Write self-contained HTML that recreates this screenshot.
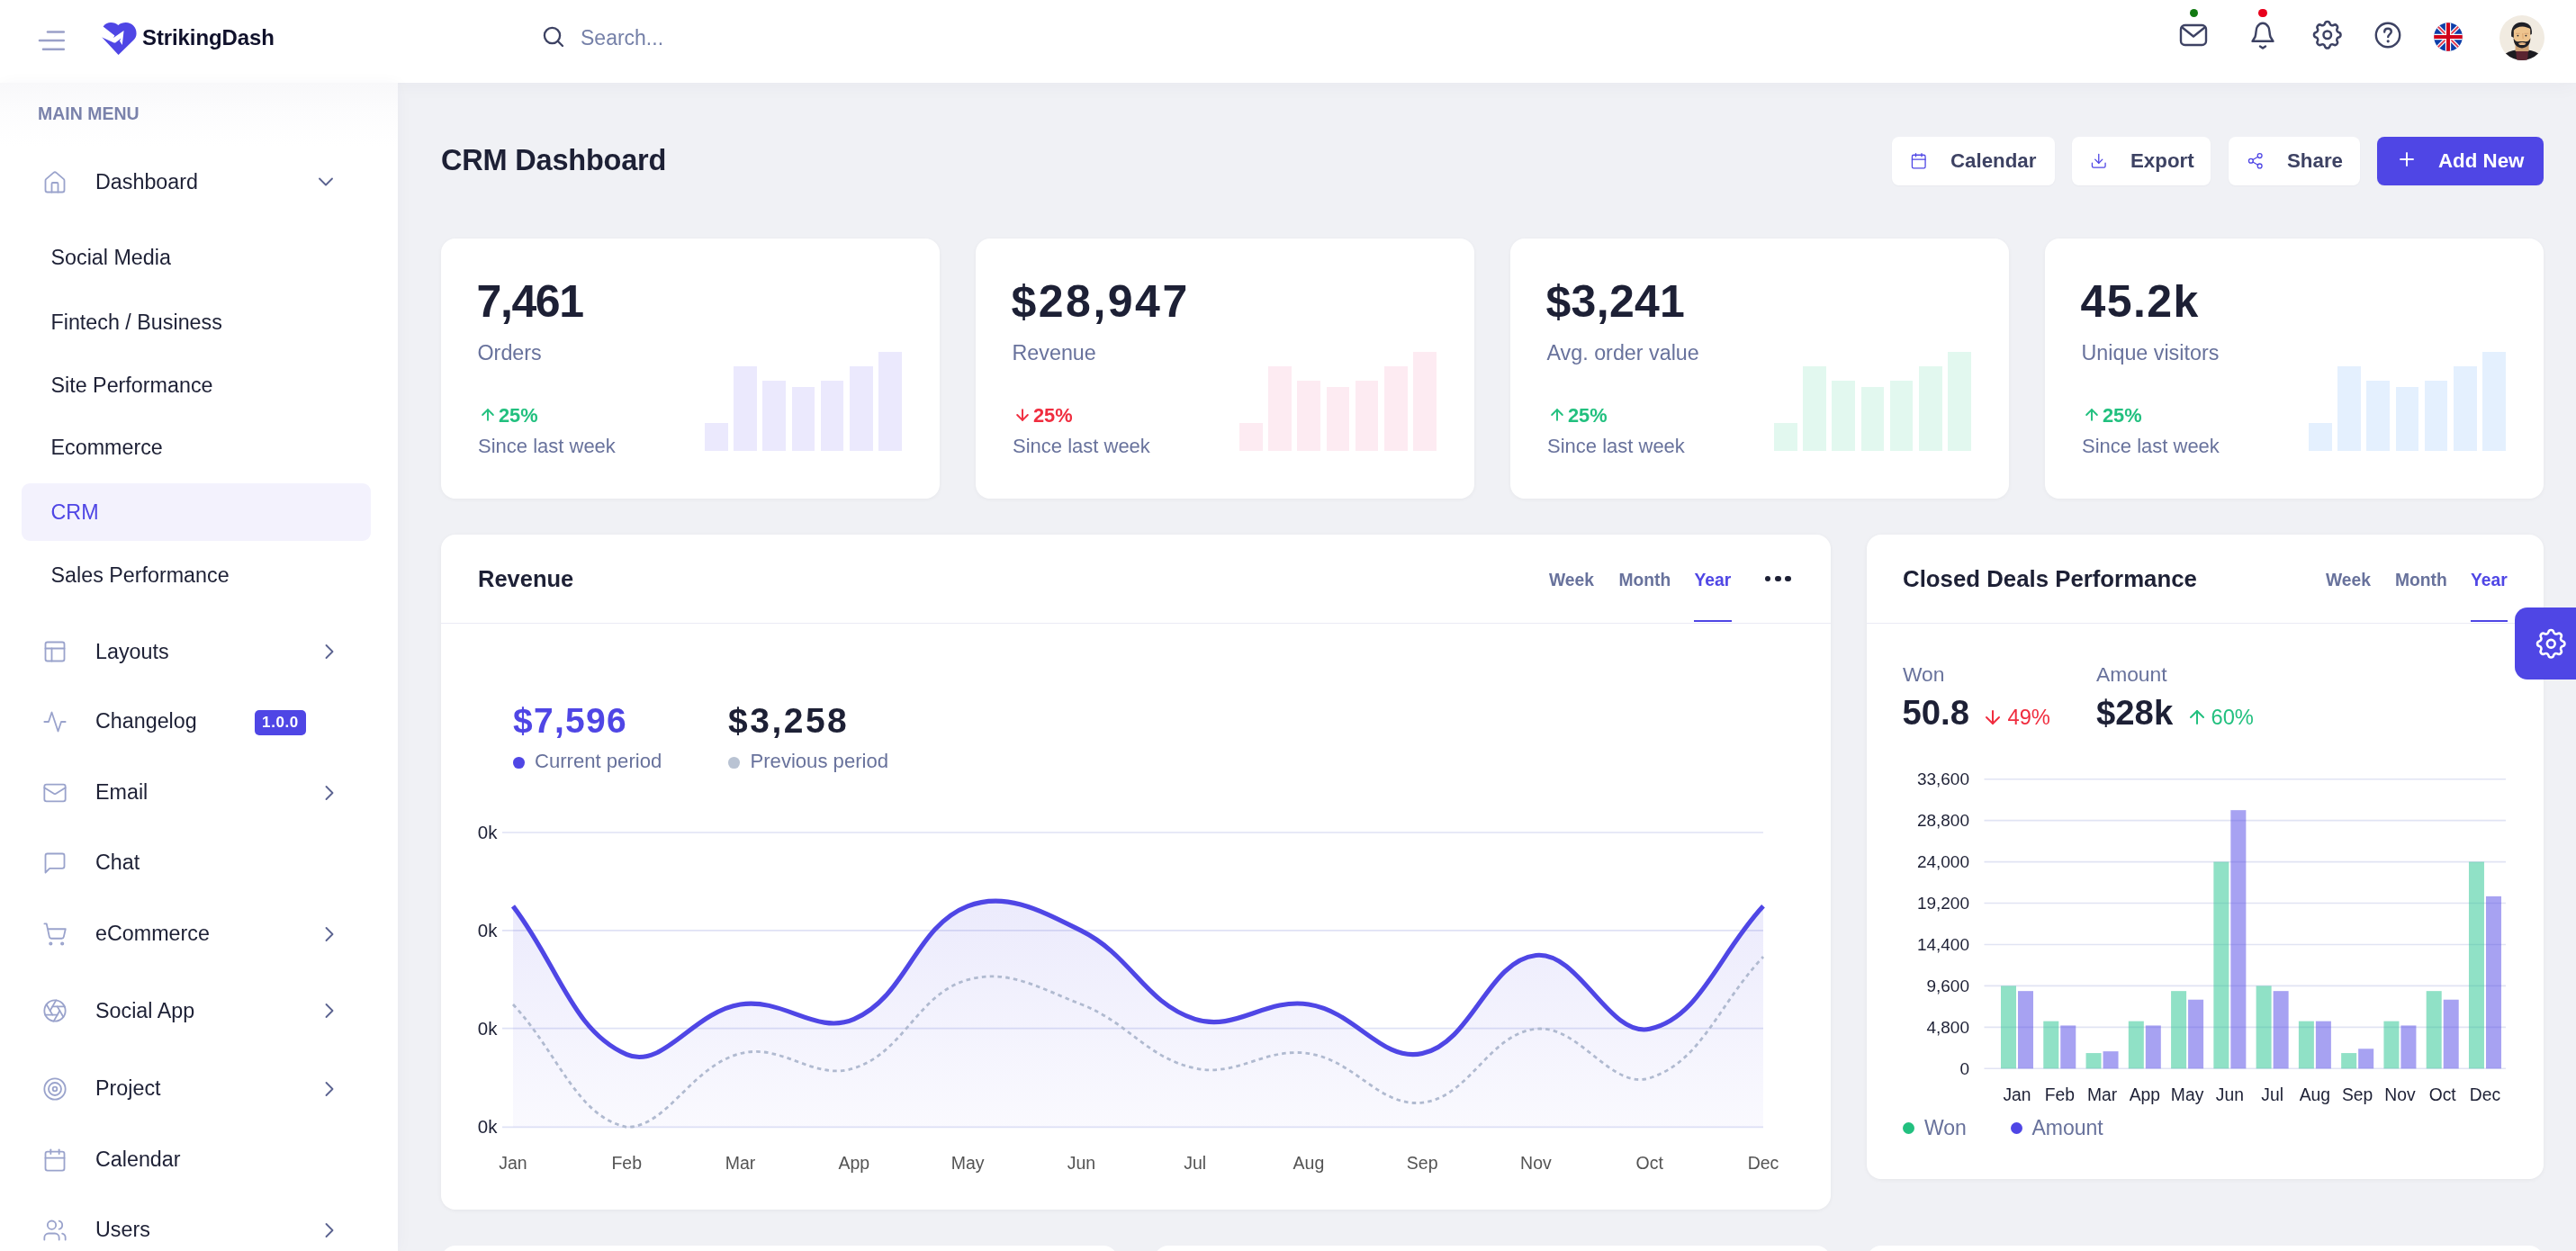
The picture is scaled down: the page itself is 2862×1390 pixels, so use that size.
<!DOCTYPE html>
<html><head><meta charset="utf-8"><title>CRM Dashboard</title>
<style>
html,body{margin:0;padding:0;}
body{width:2862px;height:1390px;overflow:hidden;position:relative;background:#f0f1f5;font-family:"Liberation Sans",sans-serif;}
.t{position:absolute;line-height:1;white-space:nowrap;}
body{-webkit-font-smoothing:antialiased;}
#root{position:absolute;left:0;top:0;width:2862px;height:1390px;will-change:transform;}
svg{overflow:visible}
</style></head><body>
<div id="root">
<div style="position:absolute;left:0px;top:0px;width:2862px;height:92px;background:#fff;box-shadow:0 2px 22px rgba(40,45,90,0.045);z-index:3"></div>
<div style="position:absolute;left:0;top:0;width:2862px;height:92px;z-index:4">
<svg style="position:absolute;left:40px;top:25px;" width="40" height="40" viewBox="0 0 40 40"><g stroke="#9aa0c8" stroke-width="2.6" stroke-linecap="round"><line x1="13" y1="10.5" x2="30.8" y2="10.5"/><line x1="4" y1="20" x2="30.8" y2="20"/><line x1="8" y1="29.7" x2="30.8" y2="29.7"/></g></svg>
<svg style="position:absolute;left:105px;top:18px;" width="55" height="50" viewBox="0 0 1376 1251"><path fill="#4f46e5" d="M240 285 C300 210,380 178,450 178 C540 178,610 205,660 250 C720 200,790 178,870 178 C1040 178,1165 310,1165 480 C1165 560,1130 620,1080 670 L665 1075 L210 585 Z"/><path fill="#fff" d="M150 270 L240 285 L560 540 L525 600 L545 585 L815 400 L770 800 L700 690 L740 610 L580 740 L540 740 L210 585 L150 585 Z"/></svg>
<div class="t" style="left:158px;top:29.7px;font-size:24px;color:#10112b;font-weight:700;letter-spacing:-0.1px">StrikingDash</div>
<svg style="position:absolute;left:600px;top:26px;" width="30" height="30" viewBox="0 0 30 30"><g fill="none" stroke="#3d4263" stroke-width="2.3" stroke-linecap="round"><circle cx="13.5" cy="13.5" r="8.6"/><line x1="19.8" y1="19.8" x2="25" y2="25"/></g></svg>
<div class="t" style="left:645px;top:30.5px;font-size:23px;color:#7580a8;font-weight:400;">Search...</div>
<svg style="position:absolute;left:2420px;top:25px;" width="34" height="28" viewBox="0 0 34 28"><g fill="none" stroke="#3d4263" stroke-width="2.4" stroke-linejoin="round" stroke-linecap="round"><rect x="3" y="3" width="28" height="22" rx="4.5"/><path d="M4.5 5.5 L17 15.5 L29.5 5.5"/></g></svg>
<div style="position:absolute;left:2432.8px;top:10px;width:9px;height:9px;border-radius:50%;background:#127a12"></div>
<svg style="position:absolute;left:2498px;top:23px;" width="32" height="34" viewBox="0 0 32 34"><g fill="none" stroke="#3d4263" stroke-width="2.4" stroke-linejoin="round" stroke-linecap="round"><path d="M4.5 22.8 L7.5 18 C9 14 8 9 10 6.5 C12 3.5 14 2.8 16 2.8 C18 2.8 20 3.5 22 6.5 C24 9 23 14 24.5 18 L27.5 22.8 Z"/><path d="M13 28.5 L16 30.5 L19 28.5"/></g></svg>
<div style="position:absolute;left:2509px;top:9.6px;width:9.5px;height:9.5px;border-radius:50%;background:#e8001c"></div>
<svg style="position:absolute;left:2566.1px;top:19.0px;" width="39.5" height="39.5" viewBox="0 0 24 24"><g fill="none" stroke="#3d4263" stroke-width="1.5" stroke-linejoin="round" stroke-linecap="round"><path d="M10.325 4.317c.426-1.756 2.924-1.756 3.35 0a1.724 1.724 0 002.573 1.066c1.543-.94 3.31.826 2.37 2.37a1.724 1.724 0 001.065 2.572c1.756.426 1.756 2.924 0 3.35a1.724 1.724 0 00-1.066 2.573c.94 1.543-.826 3.31-2.37 2.37a1.724 1.724 0 00-2.572 1.065c-.426 1.756-2.924 1.756-3.35 0a1.724 1.724 0 00-2.573-1.066c-1.543.94-3.31-.826-2.37-2.37a1.724 1.724 0 00-1.065-2.572c-1.756-.426-1.756-2.924 0-3.35a1.724 1.724 0 001.066-2.573c-.94-1.543.826-3.31 2.37-2.37.996.608 2.296.07 2.572-1.065z"/><circle cx="12" cy="12" r="2.6"/></g></svg>
<svg style="position:absolute;left:2636px;top:22px;" width="34" height="34" viewBox="0 0 34 34"><g fill="none" stroke="#3d4263" stroke-width="2.4" stroke-linecap="round"><circle cx="17" cy="17" r="13.2"/><path d="M13.2 13.5 C13.2 11 15 9.8 17 9.8 C19.2 9.8 20.8 11.2 20.8 13.2 C20.8 15.8 17.2 16.3 17.2 19"/></g><circle cx="17.2" cy="23.8" r="1.6" fill="#3d4263"/></svg>
<svg style="position:absolute;left:2704px;top:25px;" width="32" height="32" viewBox="0 0 32 32"><defs><clipPath id="fc"><circle cx="16" cy="16" r="15.8"/></clipPath><filter id="fb" x="-10%" y="-10%" width="120%" height="120%"><feGaussianBlur stdDeviation="0.8"/></filter></defs><g clip-path="url(#fc)"><g><rect x="-2" y="-2" width="36" height="36" fill="#0d3ea9"/><path d="M0 0 L32 32 M32 0 L0 32" stroke="#fff" stroke-width="4.3"/><path d="M0 0 L32 32 M32 0 L0 32" stroke="#e0364c" stroke-width="1.9"/><path d="M16 -2 V34 M-2 16 H34" stroke="#fff" stroke-width="6.3"/><path d="M16 -2 V34 M-2 16 H34" stroke="#d0021b" stroke-width="4"/></g></g></svg>
<svg style="position:absolute;left:2777.1px;top:16.6px;" width="50" height="50" viewBox="0 0 50 50"><defs><clipPath id="ac"><circle cx="25" cy="25" r="25"/></clipPath></defs><g clip-path="url(#ac)"><rect width="50" height="50" fill="#f1ebe1"/><path d="M4 45 C8 41 13 39.3 18.5 38.6 L31.5 38.6 C37 39.3 42 41 46 45 L46 52 L4 52 Z" fill="#1c1b20"/><path d="M18.2 39.2 L32 39.2 L31 52 L19.2 52 Z" fill="#5a2430"/><rect x="17.6" y="31" width="15" height="9" fill="#cfa274"/><path d="M13.2 23.5 C12.2 13 17 7.7 24.8 7.7 C32.5 7.7 36.8 12.5 35.8 21 L33 22 L16 25 Z" fill="#1e1f26"/><path d="M15.8 16 C16 12 19.5 10.8 25 10.8 C30.5 10.8 34 12 34.2 16 L34.2 27 C34.2 32 31 35.5 25 35.8 C19 35.5 15.8 32 15.8 27 Z" fill="#eec48e"/><path d="M15.2 17.5 C15.5 11.5 19 9.2 24.5 9.2 C30 9.2 34 11 35 15.5 C32 13.8 29 12.6 25.5 12.5 C21 12.5 17.8 14.2 15.2 17.5 Z" fill="#1e1f26"/><path d="M15.7 25.3 C15.5 31.5 18.5 35.8 25 36.4 C31.5 35.8 34.5 31.5 34.3 25.3 C33.3 28.2 31.5 29.4 29.2 29.3 C27.2 28.8 23 28.8 20.8 29.3 C18.5 29.4 16.7 28.2 15.7 25.3 Z" fill="#1e1f26"/><ellipse cx="25.2" cy="31.4" rx="3.8" ry="1.5" fill="#eec48e"/><path d="M21 31.4 H29.4" stroke="#c98a6a" stroke-width="0.6"/><path d="M18 20.3 H22.5 M27.6 20.3 H32.2" stroke="#d29a6a" stroke-width="0.8"/><path d="M25.8 20 L26.1 26" stroke="#d9a470" stroke-width="1"/><circle cx="20.4" cy="22.6" r="0.95" fill="#1e1f26"/><circle cx="29.4" cy="22.6" r="0.95" fill="#1e1f26"/></g></svg>
</div>
<div style="position:absolute;left:0px;top:92px;width:442px;height:1298px;background:#fff;box-shadow:2px 0 16px rgba(40,45,90,0.03);z-index:4"></div>
<div style="position:absolute;left:0;top:92px;width:442px;height:1298px;z-index:4;background:linear-gradient(#f8f8fa,#fcfcfd 30px,#fff 70px)"></div>
<div style="position:absolute;left:0;top:0;width:442px;height:1390px;z-index:4">
<div class="t" style="left:42px;top:116.5px;font-size:19.5px;color:#7a82ab;font-weight:700;letter-spacing:0px">MAIN MENU</div>
<svg style="position:absolute;left:46.5px;top:188.5px;" width="28" height="28" viewBox="0 0 24 24"><g fill="none" stroke="#9aa3cc" stroke-width="1.55" stroke-linecap="round" stroke-linejoin="round"><path d="M15 21v-8a1 1 0 0 0-1-1h-4a1 1 0 0 0-1 1v8"/><path d="M3 10a2 2 0 0 1 .709-1.528l7-5.999a2 2 0 0 1 2.582 0l7 5.999A2 2 0 0 1 21 10v9a2 2 0 0 1-2 2H5a2 2 0 0 1-2-2z"/></g></svg>
<div class="t" style="left:106px;top:190.7px;font-size:23.3px;color:#1d2035;font-weight:400;">Dashboard</div>
<svg style="position:absolute;left:348px;top:188px;" width="28" height="28" viewBox="0 0 24 24"><g fill="none" stroke="#5b6390" stroke-width="1.6" stroke-linecap="round" stroke-linejoin="round"><path d="m6 9 6 6 6-6"/></g></svg>
<div style="position:absolute;left:24px;top:537px;width:388px;height:64px;background:#f3f2fd;border-radius:9px"></div>
<div class="t" style="left:56.5px;top:274.7px;font-size:23.3px;color:#1d2035;font-weight:400;">Social Media</div>
<div class="t" style="left:56.5px;top:346.8px;font-size:23.3px;color:#1d2035;font-weight:400;">Fintech / Business</div>
<div class="t" style="left:56.5px;top:416.7px;font-size:23.3px;color:#1d2035;font-weight:400;">Site Performance</div>
<div class="t" style="left:56.5px;top:486.3px;font-size:23.3px;color:#1d2035;font-weight:400;">Ecommerce</div>
<div class="t" style="left:56.5px;top:557.7px;font-size:23.3px;color:#4f46e5;font-weight:400;">CRM</div>
<div class="t" style="left:56.5px;top:627.9px;font-size:23.3px;color:#1d2035;font-weight:400;">Sales Performance</div>
<svg style="position:absolute;left:46.5px;top:709.9px;" width="28" height="28" viewBox="0 0 24 24"><g fill="none" stroke="#9aa3cc" stroke-width="1.55" stroke-linecap="round" stroke-linejoin="round"><rect width="18" height="18" x="3" y="3" rx="2"/><path d="M3 9h18"/><path d="M9 21V9"/></g></svg>
<div class="t" style="left:106px;top:712.6px;font-size:23.3px;color:#1d2035;font-weight:400;">Layouts</div>
<svg style="position:absolute;left:352px;top:709.9px;" width="28" height="28" viewBox="0 0 24 24"><g fill="none" stroke="#5b6390" stroke-width="1.6" stroke-linecap="round" stroke-linejoin="round"><path d="m9 18 6-6-6-6"/></g></svg>
<svg style="position:absolute;left:46.5px;top:787.6px;" width="28" height="28" viewBox="0 0 24 24"><g fill="none" stroke="#9aa3cc" stroke-width="1.55" stroke-linecap="round" stroke-linejoin="round"><path d="M22 12h-4l-3 9L9 3l-3 9H2"/></g></svg>
<div class="t" style="left:106px;top:790.3px;font-size:23.3px;color:#1d2035;font-weight:400;">Changelog</div>
<svg style="position:absolute;left:46.5px;top:866.6px;" width="28" height="28" viewBox="0 0 24 24"><g fill="none" stroke="#9aa3cc" stroke-width="1.55" stroke-linecap="round" stroke-linejoin="round"><rect width="20" height="16" x="2" y="4" rx="2"/><path d="m22 7-8.97 5.7a1.94 1.94 0 0 1-2.06 0L2 7"/></g></svg>
<div class="t" style="left:106px;top:869.3px;font-size:23.3px;color:#1d2035;font-weight:400;">Email</div>
<svg style="position:absolute;left:352px;top:866.6px;" width="28" height="28" viewBox="0 0 24 24"><g fill="none" stroke="#5b6390" stroke-width="1.6" stroke-linecap="round" stroke-linejoin="round"><path d="m9 18 6-6-6-6"/></g></svg>
<svg style="position:absolute;left:46.5px;top:944.6px;" width="28" height="28" viewBox="0 0 24 24"><g fill="none" stroke="#9aa3cc" stroke-width="1.55" stroke-linecap="round" stroke-linejoin="round"><path d="M21 15a2 2 0 0 1-2 2H7l-4 4V5a2 2 0 0 1 2-2h14a2 2 0 0 1 2 2z"/></g></svg>
<div class="t" style="left:106px;top:947.3px;font-size:23.3px;color:#1d2035;font-weight:400;">Chat</div>
<svg style="position:absolute;left:46.5px;top:1023.5999999999999px;" width="28" height="28" viewBox="0 0 24 24"><g fill="none" stroke="#9aa3cc" stroke-width="1.55" stroke-linecap="round" stroke-linejoin="round"><circle cx="8" cy="21" r="1"/><circle cx="19" cy="21" r="1"/><path d="M2.05 2.05h2l2.66 12.42a2 2 0 0 0 2 1.58h9.78a2 2 0 0 0 1.95-1.57l1.65-7.43H5.12"/></g></svg>
<div class="t" style="left:106px;top:1026.3px;font-size:23.3px;color:#1d2035;font-weight:400;">eCommerce</div>
<svg style="position:absolute;left:352px;top:1023.5999999999999px;" width="28" height="28" viewBox="0 0 24 24"><g fill="none" stroke="#5b6390" stroke-width="1.6" stroke-linecap="round" stroke-linejoin="round"><path d="m9 18 6-6-6-6"/></g></svg>
<svg style="position:absolute;left:46.5px;top:1109.3999999999999px;" width="28" height="28" viewBox="0 0 24 24"><g fill="none" stroke="#9aa3cc" stroke-width="1.55" stroke-linecap="round" stroke-linejoin="round"><circle cx="12" cy="12" r="10"/><path d="m14.31 8 5.74 9.94"/><path d="M9.69 8h11.48"/><path d="m7.38 12 5.74-9.94"/><path d="M9.69 16 3.95 6.06"/><path d="M14.31 16H2.83"/><path d="m16.62 12-5.74 9.94"/></g></svg>
<div class="t" style="left:106px;top:1112.1px;font-size:23.3px;color:#1d2035;font-weight:400;">Social App</div>
<svg style="position:absolute;left:352px;top:1109.3999999999999px;" width="28" height="28" viewBox="0 0 24 24"><g fill="none" stroke="#5b6390" stroke-width="1.6" stroke-linecap="round" stroke-linejoin="round"><path d="m9 18 6-6-6-6"/></g></svg>
<svg style="position:absolute;left:46.5px;top:1195.6px;" width="28" height="28" viewBox="0 0 24 24"><g fill="none" stroke="#9aa3cc" stroke-width="1.55" stroke-linecap="round" stroke-linejoin="round"><circle cx="12" cy="12" r="10"/><circle cx="12" cy="12" r="6"/><circle cx="12" cy="12" r="2"/></g></svg>
<div class="t" style="left:106px;top:1198.3px;font-size:23.3px;color:#1d2035;font-weight:400;">Project</div>
<svg style="position:absolute;left:352px;top:1195.6px;" width="28" height="28" viewBox="0 0 24 24"><g fill="none" stroke="#5b6390" stroke-width="1.6" stroke-linecap="round" stroke-linejoin="round"><path d="m9 18 6-6-6-6"/></g></svg>
<svg style="position:absolute;left:46.5px;top:1274.6px;" width="28" height="28" viewBox="0 0 24 24"><g fill="none" stroke="#9aa3cc" stroke-width="1.55" stroke-linecap="round" stroke-linejoin="round"><path d="M8 2v4"/><path d="M16 2v4"/><rect width="18" height="18" x="3" y="4" rx="2"/><path d="M3 10h18"/></g></svg>
<div class="t" style="left:106px;top:1277.3px;font-size:23.3px;color:#1d2035;font-weight:400;">Calendar</div>
<svg style="position:absolute;left:46.5px;top:1352.6px;" width="28" height="28" viewBox="0 0 24 24"><g fill="none" stroke="#9aa3cc" stroke-width="1.55" stroke-linecap="round" stroke-linejoin="round"><path d="M16 21v-2a4 4 0 0 0-4-4H6a4 4 0 0 0-4 4v2"/><circle cx="9" cy="7" r="4"/><path d="M22 21v-2a4 4 0 0 0-3-3.87"/><path d="M16 3.13a4 4 0 0 1 0 7.75"/></g></svg>
<div class="t" style="left:106px;top:1355.3px;font-size:23.3px;color:#1d2035;font-weight:400;">Users</div>
<svg style="position:absolute;left:352px;top:1352.6px;" width="28" height="28" viewBox="0 0 24 24"><g fill="none" stroke="#5b6390" stroke-width="1.6" stroke-linecap="round" stroke-linejoin="round"><path d="m9 18 6-6-6-6"/></g></svg>
<div style="position:absolute;left:283px;top:788.5px;width:57px;height:28px;border-radius:5px;background:#4f46e5;color:#fff;font-size:17px;font-weight:700;line-height:28px;text-align:center;letter-spacing:0.6px">1.0.0</div>
</div>
<div class="t" style="left:490px;top:161.6px;font-size:32.5px;color:#1d2035;font-weight:700;letter-spacing:-0.2px">CRM Dashboard</div>
<div style="position:absolute;left:2102px;top:152px;width:181px;height:54px;border-radius:8px;background:#fff;box-shadow:0 1px 2px rgba(40,45,90,0.04)"></div>
<svg style="position:absolute;left:2122px;top:168.8px;" width="19.5" height="19.5" viewBox="0 0 24 24"><g fill="none" stroke="#4f46e5" stroke-width="1.6" stroke-linecap="round" stroke-linejoin="round"><path d="M8 2v4"/><path d="M16 2v4"/><rect width="18" height="18" x="3" y="4" rx="2"/><path d="M3 10h18"/></g></svg>
<div class="t" style="left:2167px;top:168.1px;font-size:22.3px;color:#3d4263;font-weight:700;">Calendar</div>
<div style="position:absolute;left:2302px;top:152px;width:154px;height:54px;border-radius:8px;background:#fff;box-shadow:0 1px 2px rgba(40,45,90,0.04)"></div>
<svg style="position:absolute;left:2322px;top:168.5px;" width="19.5" height="19.5" viewBox="0 0 24 24"><g fill="none" stroke="#4f46e5" stroke-width="1.6" stroke-linecap="round" stroke-linejoin="round"><path d="M21 15v4a2 2 0 0 1-2 2H5a2 2 0 0 1-2-2v-4"/><polyline points="7 10 12 15 17 10"/><line x1="12" x2="12" y1="15" y2="3"/></g></svg>
<div class="t" style="left:2367px;top:168.1px;font-size:22.3px;color:#3d4263;font-weight:700;">Export</div>
<div style="position:absolute;left:2476px;top:152px;width:146px;height:54px;border-radius:8px;background:#fff;box-shadow:0 1px 2px rgba(40,45,90,0.04)"></div>
<svg style="position:absolute;left:2495.5px;top:168.5px;" width="19.5" height="19.5" viewBox="0 0 24 24"><g fill="none" stroke="#4f46e5" stroke-width="1.6" stroke-linecap="round" stroke-linejoin="round"><circle cx="18" cy="5" r="3"/><circle cx="6" cy="12" r="3"/><circle cx="18" cy="19" r="3"/><line x1="8.59" x2="15.42" y1="13.51" y2="17.49"/><line x1="15.41" x2="8.59" y1="6.51" y2="10.49"/></g></svg>
<div class="t" style="left:2541px;top:168.1px;font-size:22.3px;color:#3d4263;font-weight:700;">Share</div>
<div style="position:absolute;left:2641px;top:152px;width:185px;height:54px;border-radius:8px;background:#4f46e5;box-shadow:0 1px 2px rgba(40,45,90,0.04)"></div>
<svg style="position:absolute;left:2662px;top:164.5px;" width="24" height="24" viewBox="0 0 24 24"><g fill="none" stroke="#fff" stroke-width="1.9" stroke-linecap="round" stroke-linejoin="round"><path d="M5 12h14"/><path d="M12 5v14"/></g></svg>
<div class="t" style="left:2709px;top:168.1px;font-size:22.3px;color:#fff;font-weight:700;">Add New</div>
<div style="position:absolute;left:490px;top:265px;width:554px;height:289px;border-radius:16px;background:#fff;box-shadow:0 1px 5px rgba(0,0,0,0.045)"></div>
<div class="t" style="left:529.5px;top:310.0px;font-size:50px;color:#1d2035;font-weight:700;letter-spacing:-1.4px">7,461</div>
<div class="t" style="left:530.5px;top:380.8px;font-size:23.3px;color:#68729c;font-weight:400;">Orders</div>
<svg style="position:absolute;left:531.5px;top:451px;" width="20" height="20" viewBox="0 0 24 24"><g fill="none" stroke="#22c07f" stroke-width="2.3" stroke-linecap="round" stroke-linejoin="round"><path d="M12 19V5"/><path d="m5 12 7-7 7 7"/></g></svg>
<div class="t" style="left:554px;top:450.7px;font-size:21.8px;color:#22c07f;font-weight:700;">25%</div>
<div class="t" style="left:531px;top:485.4px;font-size:22px;color:#68729c;font-weight:400;">Since last week</div>
<div style="position:absolute;left:783.0px;top:469.7px;width:25.6px;height:31px;background:#ebe9fd"></div>
<div style="position:absolute;left:815.2px;top:406.7px;width:25.6px;height:94px;background:#ebe9fd"></div>
<div style="position:absolute;left:847.4px;top:422.7px;width:25.6px;height:78px;background:#ebe9fd"></div>
<div style="position:absolute;left:879.6px;top:430.0px;width:25.6px;height:70.7px;background:#ebe9fd"></div>
<div style="position:absolute;left:911.8px;top:422.7px;width:25.6px;height:78px;background:#ebe9fd"></div>
<div style="position:absolute;left:944.0px;top:406.7px;width:25.6px;height:94px;background:#ebe9fd"></div>
<div style="position:absolute;left:976.2px;top:390.7px;width:25.6px;height:110px;background:#ebe9fd"></div>
<div style="position:absolute;left:1084px;top:265px;width:554px;height:289px;border-radius:16px;background:#fff;box-shadow:0 1px 5px rgba(0,0,0,0.045)"></div>
<div class="t" style="left:1123.5px;top:310.0px;font-size:50px;color:#1d2035;font-weight:700;letter-spacing:2.5px">$28,947</div>
<div class="t" style="left:1124.5px;top:380.8px;font-size:23.3px;color:#68729c;font-weight:400;">Revenue</div>
<svg style="position:absolute;left:1125.5px;top:451px;" width="20" height="20" viewBox="0 0 24 24"><g fill="none" stroke="#f02d3f" stroke-width="2.3" stroke-linecap="round" stroke-linejoin="round"><path d="M12 5v14"/><path d="m19 12-7 7-7-7"/></g></svg>
<div class="t" style="left:1148px;top:450.7px;font-size:21.8px;color:#f02d3f;font-weight:700;">25%</div>
<div class="t" style="left:1125px;top:485.4px;font-size:22px;color:#68729c;font-weight:400;">Since last week</div>
<div style="position:absolute;left:1377.0px;top:469.7px;width:25.6px;height:31px;background:#fdebf2"></div>
<div style="position:absolute;left:1409.2px;top:406.7px;width:25.6px;height:94px;background:#fdebf2"></div>
<div style="position:absolute;left:1441.4px;top:422.7px;width:25.6px;height:78px;background:#fdebf2"></div>
<div style="position:absolute;left:1473.6px;top:430.0px;width:25.6px;height:70.7px;background:#fdebf2"></div>
<div style="position:absolute;left:1505.8px;top:422.7px;width:25.6px;height:78px;background:#fdebf2"></div>
<div style="position:absolute;left:1538.0px;top:406.7px;width:25.6px;height:94px;background:#fdebf2"></div>
<div style="position:absolute;left:1570.2px;top:390.7px;width:25.6px;height:110px;background:#fdebf2"></div>
<div style="position:absolute;left:1678px;top:265px;width:554px;height:289px;border-radius:16px;background:#fff;box-shadow:0 1px 5px rgba(0,0,0,0.045)"></div>
<div class="t" style="left:1717.5px;top:310.0px;font-size:50px;color:#1d2035;font-weight:700;letter-spacing:0.3px">$3,241</div>
<div class="t" style="left:1718.5px;top:380.8px;font-size:23.3px;color:#68729c;font-weight:400;">Avg. order value</div>
<svg style="position:absolute;left:1719.5px;top:451px;" width="20" height="20" viewBox="0 0 24 24"><g fill="none" stroke="#22c07f" stroke-width="2.3" stroke-linecap="round" stroke-linejoin="round"><path d="M12 19V5"/><path d="m5 12 7-7 7 7"/></g></svg>
<div class="t" style="left:1742px;top:450.7px;font-size:21.8px;color:#22c07f;font-weight:700;">25%</div>
<div class="t" style="left:1719px;top:485.4px;font-size:22px;color:#68729c;font-weight:400;">Since last week</div>
<div style="position:absolute;left:1971.0px;top:469.7px;width:25.6px;height:31px;background:#e2f8ef"></div>
<div style="position:absolute;left:2003.2px;top:406.7px;width:25.6px;height:94px;background:#e2f8ef"></div>
<div style="position:absolute;left:2035.4px;top:422.7px;width:25.6px;height:78px;background:#e2f8ef"></div>
<div style="position:absolute;left:2067.6px;top:430.0px;width:25.6px;height:70.7px;background:#e2f8ef"></div>
<div style="position:absolute;left:2099.8px;top:422.7px;width:25.6px;height:78px;background:#e2f8ef"></div>
<div style="position:absolute;left:2132.0px;top:406.7px;width:25.6px;height:94px;background:#e2f8ef"></div>
<div style="position:absolute;left:2164.2px;top:390.7px;width:25.6px;height:110px;background:#e2f8ef"></div>
<div style="position:absolute;left:2272px;top:265px;width:554px;height:289px;border-radius:16px;background:#fff;box-shadow:0 1px 5px rgba(0,0,0,0.045)"></div>
<div class="t" style="left:2311.5px;top:310.0px;font-size:50px;color:#1d2035;font-weight:700;letter-spacing:1.4px">45.2k</div>
<div class="t" style="left:2312.5px;top:380.8px;font-size:23.3px;color:#68729c;font-weight:400;">Unique visitors</div>
<svg style="position:absolute;left:2313.5px;top:451px;" width="20" height="20" viewBox="0 0 24 24"><g fill="none" stroke="#22c07f" stroke-width="2.3" stroke-linecap="round" stroke-linejoin="round"><path d="M12 19V5"/><path d="m5 12 7-7 7 7"/></g></svg>
<div class="t" style="left:2336px;top:450.7px;font-size:21.8px;color:#22c07f;font-weight:700;">25%</div>
<div class="t" style="left:2313px;top:485.4px;font-size:22px;color:#68729c;font-weight:400;">Since last week</div>
<div style="position:absolute;left:2565.0px;top:469.7px;width:25.6px;height:31px;background:#e4f0fe"></div>
<div style="position:absolute;left:2597.2px;top:406.7px;width:25.6px;height:94px;background:#e4f0fe"></div>
<div style="position:absolute;left:2629.4px;top:422.7px;width:25.6px;height:78px;background:#e4f0fe"></div>
<div style="position:absolute;left:2661.6px;top:430.0px;width:25.6px;height:70.7px;background:#e4f0fe"></div>
<div style="position:absolute;left:2693.8px;top:422.7px;width:25.6px;height:78px;background:#e4f0fe"></div>
<div style="position:absolute;left:2726.0px;top:406.7px;width:25.6px;height:94px;background:#e4f0fe"></div>
<div style="position:absolute;left:2758.2px;top:390.7px;width:25.6px;height:110px;background:#e4f0fe"></div>
<div style="position:absolute;left:490px;top:594px;width:1544px;height:750px;border-radius:16px;background:#fff;box-shadow:0 1px 5px rgba(0,0,0,0.05)"></div>
<div class="t" style="left:531px;top:630.8px;font-size:25.5px;color:#1d2035;font-weight:700;">Revenue</div>
<div class="t" style="left:1721px;top:634.7px;font-size:19.3px;color:#68729c;font-weight:700;">Week</div>
<div class="t" style="left:1798.5px;top:634.7px;font-size:19.3px;color:#68729c;font-weight:700;">Month</div>
<div class="t" style="left:1882.5px;top:634.7px;font-size:19.3px;color:#4f46e5;font-weight:700;">Year</div>
<div style="position:absolute;left:1882px;top:688.8px;width:42px;height:2px;background:#4f46e5"></div>
<div style="position:absolute;left:1960.9px;top:639.7px;width:6.6px;height:6.6px;border-radius:50%;background:#1d2035"></div>
<div style="position:absolute;left:1972.0px;top:639.7px;width:6.6px;height:6.6px;border-radius:50%;background:#1d2035"></div>
<div style="position:absolute;left:1983.1000000000001px;top:639.7px;width:6.6px;height:6.6px;border-radius:50%;background:#1d2035"></div>
<div style="position:absolute;left:490px;top:692px;width:1544px;height:1.2px;background:#ebebf5"></div>
<div class="t" style="left:570px;top:781.0px;font-size:39px;color:#4f46e5;font-weight:700;letter-spacing:1.3px">$7,596</div>
<div class="t" style="left:809px;top:781.0px;font-size:39px;color:#1d2035;font-weight:700;letter-spacing:2.5px">$3,258</div>
<div style="position:absolute;left:570.1px;top:841.4px;width:12.8px;height:12.8px;border-radius:50%;background:#4f46e5"></div>
<div style="position:absolute;left:809.1px;top:841.4px;width:12.8px;height:12.8px;border-radius:50%;background:#b9c3d3"></div>
<div class="t" style="left:594px;top:835.0px;font-size:22.1px;color:#68729c;font-weight:400;">Current period</div>
<div class="t" style="left:833.5px;top:835.0px;font-size:22.1px;color:#68729c;font-weight:400;">Previous period</div>
<svg style="position:absolute;left:0;top:0" width="2862" height="1390" viewBox="0 0 2862 1390"><defs><linearGradient id="lg" x1="0" y1="925" x2="0" y2="1252.4" gradientUnits="userSpaceOnUse"><stop offset="0" stop-color="#4f46e5" stop-opacity="0.135"/><stop offset="1" stop-color="#4f46e5" stop-opacity="0.03"/></linearGradient></defs><line x1="558" y1="925.0" x2="1959" y2="925.0" stroke="#dfe2f5" stroke-width="1.7"/><line x1="558" y1="1033.8" x2="1959" y2="1033.8" stroke="#dfe2f5" stroke-width="1.7"/><line x1="558" y1="1142.6" x2="1959" y2="1142.6" stroke="#dfe2f5" stroke-width="1.7"/><line x1="558" y1="1252.4" x2="1959" y2="1252.4" stroke="#dfe2f5" stroke-width="1.7"/><path d="M570.00 1006.85 C620.51 1072.77 635.59 1145.42 696.27 1171.64 C736.61 1189.07 770.01 1124.16 822.55 1115.98 C871.02 1108.44 906.70 1150.56 948.82 1132.35 C1007.71 1106.90 1016.55 1029.62 1075.09 1006.85 C1117.57 990.33 1156.23 1011.71 1201.36 1034.13 C1257.25 1061.91 1271.39 1114.12 1327.64 1132.35 C1372.41 1146.86 1405.35 1108.64 1453.91 1115.98 C1506.37 1123.92 1534.54 1180.41 1580.18 1170.55 C1635.56 1158.58 1653.33 1067.16 1706.45 1061.42 C1754.35 1056.24 1787.54 1153.03 1832.73 1143.27 C1888.55 1131.20 1908.49 1061.42 1959.00 1006.85 L1959 1252.4 L570 1252.4 Z" fill="url(#lg)"/><path d="M570.00 1115.98 C620.51 1170.55 640.45 1240.34 696.27 1252.40 C741.46 1252.40 767.83 1184.74 822.55 1170.55 C868.85 1158.55 904.05 1201.43 948.82 1186.92 C1005.07 1168.69 1019.20 1104.40 1075.09 1088.70 C1120.22 1076.02 1153.74 1097.46 1201.36 1115.98 C1254.76 1136.75 1273.88 1175.30 1327.64 1186.92 C1374.90 1197.13 1405.35 1163.21 1453.91 1170.55 C1506.37 1178.48 1531.94 1230.33 1580.18 1225.12 C1632.96 1219.42 1653.68 1148.97 1706.45 1143.27 C1754.70 1138.05 1789.61 1211.53 1832.73 1197.83 C1890.62 1179.44 1908.49 1116.97 1959.00 1063.05" fill="none" stroke="#b0bad0" stroke-width="2.8" stroke-dasharray="4.6 4.2"/><path d="M570.00 1006.85 C620.51 1072.77 635.59 1145.42 696.27 1171.64 C736.61 1189.07 770.01 1124.16 822.55 1115.98 C871.02 1108.44 906.70 1150.56 948.82 1132.35 C1007.71 1106.90 1016.55 1029.62 1075.09 1006.85 C1117.57 990.33 1156.23 1011.71 1201.36 1034.13 C1257.25 1061.91 1271.39 1114.12 1327.64 1132.35 C1372.41 1146.86 1405.35 1108.64 1453.91 1115.98 C1506.37 1123.92 1534.54 1180.41 1580.18 1170.55 C1635.56 1158.58 1653.33 1067.16 1706.45 1061.42 C1754.35 1056.24 1787.54 1153.03 1832.73 1143.27 C1888.55 1131.20 1908.49 1061.42 1959.00 1006.85" fill="none" stroke="#4f46e5" stroke-width="5.1" stroke-linejoin="round"/></svg>
<div class="t" style="right:2309.5px;top:914.9px;font-size:20.5px;color:#1d2035;font-weight:400;">0k</div>
<div class="t" style="right:2309.5px;top:1023.7px;font-size:20.5px;color:#1d2035;font-weight:400;">0k</div>
<div class="t" style="right:2309.5px;top:1132.5px;font-size:20.5px;color:#1d2035;font-weight:400;">0k</div>
<div class="t" style="right:2309.5px;top:1242.3px;font-size:20.5px;color:#1d2035;font-weight:400;">0k</div>
<div class="t" style="left:570.0px;transform:translateX(-50%);top:1282.5px;font-size:19.5px;color:#545454;font-weight:400;">Jan</div>
<div class="t" style="left:696.2727272727273px;transform:translateX(-50%);top:1282.5px;font-size:19.5px;color:#545454;font-weight:400;">Feb</div>
<div class="t" style="left:822.5454545454545px;transform:translateX(-50%);top:1282.5px;font-size:19.5px;color:#545454;font-weight:400;">Mar</div>
<div class="t" style="left:948.8181818181818px;transform:translateX(-50%);top:1282.5px;font-size:19.5px;color:#545454;font-weight:400;">App</div>
<div class="t" style="left:1075.090909090909px;transform:translateX(-50%);top:1282.5px;font-size:19.5px;color:#545454;font-weight:400;">May</div>
<div class="t" style="left:1201.3636363636365px;transform:translateX(-50%);top:1282.5px;font-size:19.5px;color:#545454;font-weight:400;">Jun</div>
<div class="t" style="left:1327.6363636363635px;transform:translateX(-50%);top:1282.5px;font-size:19.5px;color:#545454;font-weight:400;">Jul</div>
<div class="t" style="left:1453.909090909091px;transform:translateX(-50%);top:1282.5px;font-size:19.5px;color:#545454;font-weight:400;">Aug</div>
<div class="t" style="left:1580.181818181818px;transform:translateX(-50%);top:1282.5px;font-size:19.5px;color:#545454;font-weight:400;">Sep</div>
<div class="t" style="left:1706.4545454545455px;transform:translateX(-50%);top:1282.5px;font-size:19.5px;color:#545454;font-weight:400;">Nov</div>
<div class="t" style="left:1832.7272727272727px;transform:translateX(-50%);top:1282.5px;font-size:19.5px;color:#545454;font-weight:400;">Oct</div>
<div class="t" style="left:1959.0px;transform:translateX(-50%);top:1282.5px;font-size:19.5px;color:#545454;font-weight:400;">Dec</div>
<div style="position:absolute;left:2074px;top:594px;width:752px;height:716px;border-radius:16px;background:#fff;box-shadow:0 1px 5px rgba(0,0,0,0.05)"></div>
<div class="t" style="left:2114px;top:630.7px;font-size:25.8px;color:#1d2035;font-weight:700;">Closed Deals Performance</div>
<div class="t" style="left:2584px;top:634.7px;font-size:19.3px;color:#68729c;font-weight:700;">Week</div>
<div class="t" style="left:2661px;top:634.7px;font-size:19.3px;color:#68729c;font-weight:700;">Month</div>
<div class="t" style="left:2745px;top:634.7px;font-size:19.3px;color:#4f46e5;font-weight:700;">Year</div>
<div style="position:absolute;left:2745px;top:688.8px;width:40.5px;height:2px;background:#4f46e5"></div>
<div style="position:absolute;left:2074px;top:692px;width:752px;height:1.2px;background:#ebebf5"></div>
<div class="t" style="left:2114px;top:738.2px;font-size:22.8px;color:#68729c;font-weight:400;">Won</div>
<div class="t" style="left:2329px;top:738.2px;font-size:22.8px;color:#68729c;font-weight:400;">Amount</div>
<div class="t" style="left:2113.5px;top:773.3px;font-size:38.3px;color:#1d2035;font-weight:700;">50.8</div>
<div class="t" style="left:2329px;top:773.3px;font-size:38.3px;color:#1d2035;font-weight:700;">$28k</div>
<svg style="position:absolute;left:2202px;top:785px;" width="24" height="24" viewBox="0 0 24 24"><g fill="none" stroke="#f02d3f" stroke-width="2.0" stroke-linecap="round" stroke-linejoin="round"><path d="M12 5v14"/><path d="m19 12-7 7-7-7"/></g></svg>
<div class="t" style="left:2230.5px;top:785.6px;font-size:23.7px;color:#f02d3f;font-weight:400;">49%</div>
<svg style="position:absolute;left:2428.5px;top:785px;" width="24" height="24" viewBox="0 0 24 24"><g fill="none" stroke="#22c07f" stroke-width="2.0" stroke-linecap="round" stroke-linejoin="round"><path d="M12 19V5"/><path d="m5 12 7-7 7 7"/></g></svg>
<div class="t" style="left:2456.5px;top:785.6px;font-size:23.7px;color:#22c07f;font-weight:400;">60%</div>
<svg style="position:absolute;left:0;top:0" width="2862" height="1390" viewBox="0 0 2862 1390"><line x1="2204.5" y1="1187.30" x2="2784" y2="1187.30" stroke="#e1e4f3" stroke-width="1.6"/><line x1="2204.5" y1="1141.36" x2="2784" y2="1141.36" stroke="#e1e4f3" stroke-width="1.6"/><line x1="2204.5" y1="1095.42" x2="2784" y2="1095.42" stroke="#e1e4f3" stroke-width="1.6"/><line x1="2204.5" y1="1049.48" x2="2784" y2="1049.48" stroke="#e1e4f3" stroke-width="1.6"/><line x1="2204.5" y1="1003.54" x2="2784" y2="1003.54" stroke="#e1e4f3" stroke-width="1.6"/><line x1="2204.5" y1="957.60" x2="2784" y2="957.60" stroke="#e1e4f3" stroke-width="1.6"/><line x1="2204.5" y1="911.66" x2="2784" y2="911.66" stroke="#e1e4f3" stroke-width="1.6"/><line x1="2204.5" y1="865.72" x2="2784" y2="865.72" stroke="#e1e4f3" stroke-width="1.6"/><rect x="2223.00" y="1095.42" width="17" height="91.88" fill="#22c38e" fill-opacity="0.5"/><rect x="2242.00" y="1101.16" width="17" height="86.14" fill="#4f46e5" fill-opacity="0.5"/><rect x="2270.27" y="1134.66" width="17" height="52.64" fill="#22c38e" fill-opacity="0.5"/><rect x="2289.27" y="1139.45" width="17" height="47.85" fill="#4f46e5" fill-opacity="0.5"/><rect x="2317.54" y="1170.07" width="17" height="17.23" fill="#22c38e" fill-opacity="0.5"/><rect x="2336.54" y="1168.16" width="17" height="19.14" fill="#4f46e5" fill-opacity="0.5"/><rect x="2364.81" y="1134.66" width="17" height="52.64" fill="#22c38e" fill-opacity="0.5"/><rect x="2383.81" y="1139.45" width="17" height="47.85" fill="#4f46e5" fill-opacity="0.5"/><rect x="2412.08" y="1101.16" width="17" height="86.14" fill="#22c38e" fill-opacity="0.5"/><rect x="2431.08" y="1110.73" width="17" height="76.57" fill="#4f46e5" fill-opacity="0.5"/><rect x="2459.35" y="957.60" width="17" height="229.70" fill="#22c38e" fill-opacity="0.5"/><rect x="2478.35" y="900.17" width="17" height="287.12" fill="#4f46e5" fill-opacity="0.5"/><rect x="2506.62" y="1095.42" width="17" height="91.88" fill="#22c38e" fill-opacity="0.5"/><rect x="2525.62" y="1101.16" width="17" height="86.14" fill="#4f46e5" fill-opacity="0.5"/><rect x="2553.89" y="1134.66" width="17" height="52.64" fill="#22c38e" fill-opacity="0.5"/><rect x="2572.89" y="1134.66" width="17" height="52.64" fill="#4f46e5" fill-opacity="0.5"/><rect x="2601.16" y="1170.07" width="17" height="17.23" fill="#22c38e" fill-opacity="0.5"/><rect x="2620.16" y="1165.29" width="17" height="22.01" fill="#4f46e5" fill-opacity="0.5"/><rect x="2648.43" y="1134.66" width="17" height="52.64" fill="#22c38e" fill-opacity="0.5"/><rect x="2667.43" y="1139.45" width="17" height="47.85" fill="#4f46e5" fill-opacity="0.5"/><rect x="2695.70" y="1101.16" width="17" height="86.14" fill="#22c38e" fill-opacity="0.5"/><rect x="2714.70" y="1110.73" width="17" height="76.57" fill="#4f46e5" fill-opacity="0.5"/><rect x="2742.97" y="957.60" width="17" height="229.70" fill="#22c38e" fill-opacity="0.5"/><rect x="2761.97" y="995.88" width="17" height="191.42" fill="#4f46e5" fill-opacity="0.5"/></svg>
<div class="t" style="right:674px;top:1178.0px;font-size:19px;color:#1d2035;font-weight:400;">0</div>
<div class="t" style="right:674px;top:1132.1px;font-size:19px;color:#1d2035;font-weight:400;">4,800</div>
<div class="t" style="right:674px;top:1086.1px;font-size:19px;color:#1d2035;font-weight:400;">9,600</div>
<div class="t" style="right:674px;top:1040.2px;font-size:19px;color:#1d2035;font-weight:400;">14,400</div>
<div class="t" style="right:674px;top:994.3px;font-size:19px;color:#1d2035;font-weight:400;">19,200</div>
<div class="t" style="right:674px;top:948.3px;font-size:19px;color:#1d2035;font-weight:400;">24,000</div>
<div class="t" style="right:674px;top:902.4px;font-size:19px;color:#1d2035;font-weight:400;">28,800</div>
<div class="t" style="right:674px;top:856.4px;font-size:19px;color:#1d2035;font-weight:400;">33,600</div>
<div class="t" style="left:2241.0px;transform:translateX(-50%);top:1207.4px;font-size:19.3px;color:#1d2035;font-weight:400;">Jan</div>
<div class="t" style="left:2288.27px;transform:translateX(-50%);top:1207.4px;font-size:19.3px;color:#1d2035;font-weight:400;">Feb</div>
<div class="t" style="left:2335.54px;transform:translateX(-50%);top:1207.4px;font-size:19.3px;color:#1d2035;font-weight:400;">Mar</div>
<div class="t" style="left:2382.81px;transform:translateX(-50%);top:1207.4px;font-size:19.3px;color:#1d2035;font-weight:400;">App</div>
<div class="t" style="left:2430.08px;transform:translateX(-50%);top:1207.4px;font-size:19.3px;color:#1d2035;font-weight:400;">May</div>
<div class="t" style="left:2477.35px;transform:translateX(-50%);top:1207.4px;font-size:19.3px;color:#1d2035;font-weight:400;">Jun</div>
<div class="t" style="left:2524.62px;transform:translateX(-50%);top:1207.4px;font-size:19.3px;color:#1d2035;font-weight:400;">Jul</div>
<div class="t" style="left:2571.89px;transform:translateX(-50%);top:1207.4px;font-size:19.3px;color:#1d2035;font-weight:400;">Aug</div>
<div class="t" style="left:2619.16px;transform:translateX(-50%);top:1207.4px;font-size:19.3px;color:#1d2035;font-weight:400;">Sep</div>
<div class="t" style="left:2666.43px;transform:translateX(-50%);top:1207.4px;font-size:19.3px;color:#1d2035;font-weight:400;">Nov</div>
<div class="t" style="left:2713.7px;transform:translateX(-50%);top:1207.4px;font-size:19.3px;color:#1d2035;font-weight:400;">Oct</div>
<div class="t" style="left:2760.9700000000003px;transform:translateX(-50%);top:1207.4px;font-size:19.3px;color:#1d2035;font-weight:400;">Dec</div>
<div style="position:absolute;left:2113.5px;top:1246.8px;width:13px;height:13px;border-radius:50%;background:#22c07f"></div>
<div class="t" style="left:2138px;top:1241.8px;font-size:23px;color:#68729c;font-weight:400;">Won</div>
<div style="position:absolute;left:2233.5px;top:1246.8px;width:13px;height:13px;border-radius:50%;background:#4f46e5"></div>
<div class="t" style="left:2257.5px;top:1241.8px;font-size:23px;color:#68729c;font-weight:400;">Amount</div>
<div style="position:absolute;left:490px;top:1383.5px;width:752px;height:300px;border-radius:16px;background:#fff"></div>
<div style="position:absolute;left:1282px;top:1383.5px;width:752px;height:300px;border-radius:16px;background:#fff"></div>
<div style="position:absolute;left:2074px;top:1383.5px;width:752px;height:300px;border-radius:16px;background:#fff"></div>
<div style="position:absolute;left:2794px;top:675px;width:90px;height:80px;border-radius:14px 0 0 14px;background:#4f46e5;z-index:5"></div>
<svg style="position:absolute;left:2813.75px;top:694.75px;z-index:6" width="40.5" height="40.5" viewBox="0 0 24 24"><g fill="none" stroke="#fff" stroke-width="1.55" stroke-linejoin="round" stroke-linecap="round"><path d="M10.325 4.317c.426-1.756 2.924-1.756 3.35 0a1.724 1.724 0 002.573 1.066c1.543-.94 3.31.826 2.37 2.37a1.724 1.724 0 001.065 2.572c1.756.426 1.756 2.924 0 3.35a1.724 1.724 0 00-1.066 2.573c.94 1.543-.826 3.31-2.37 2.37a1.724 1.724 0 00-2.572 1.065c-.426 1.756-2.924 1.756-3.35 0a1.724 1.724 0 00-2.573-1.066c-1.543.94-3.31-.826-2.37-2.37a1.724 1.724 0 00-1.065-2.572c-1.756-.426-1.756-2.924 0-3.35a1.724 1.724 0 001.066-2.573c-.94-1.543.826-3.31 2.37-2.37.996.608 2.296.07 2.572-1.065z"/><circle cx="12" cy="12" r="2.6"/></g></svg>
</div></body></html>
